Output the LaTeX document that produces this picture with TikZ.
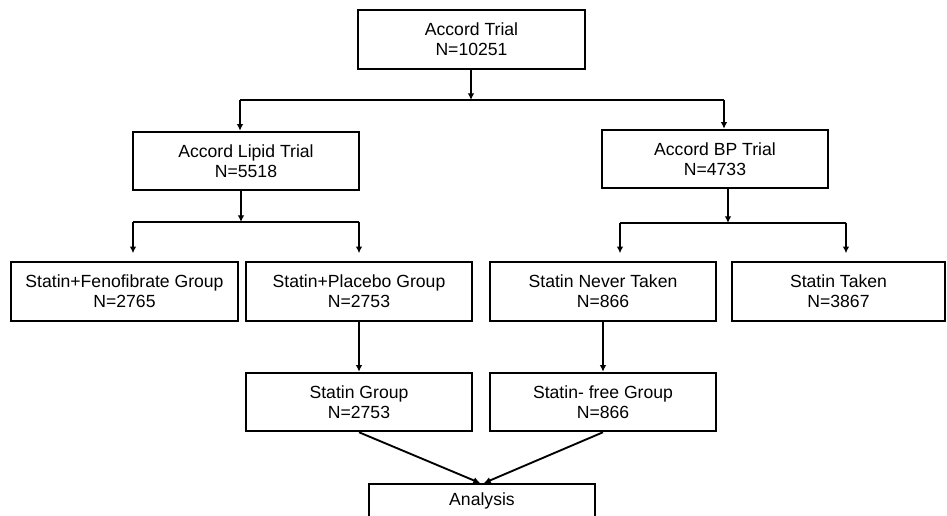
\documentclass[tikz,border=0pt]{standalone}
\usepackage{fontspec}
\setmainfont{Liberation Sans}
\usetikzlibrary{arrows.meta, positioning}

\begin{document}
\begin{tikzpicture}[
    x=0.75pt, y=-0.75pt,
    box/.style={draw, line width=1.4pt, minimum width=170pt, minimum height=44pt,
        inner sep=0pt, align=center, font=\fontsize{13.2}{15}\selectfont},
    link/.style={line width=1.4pt},
    arr/.style={link, -{Latex[length=5pt,width=5pt]}},
]
\useasboundingbox (0,0) rectangle (947,516);
\node[box] (trial) at (471.5,39.5) {Accord Trial\\N=10251};
\node[box] (lipid) at (246,161) {Accord Lipid Trial\\N=5518};
\node[box] (bp) at (715,159) {Accord BP Trial\\N=4733};
\node[box] (fenofib) at (124.5,291.5) {Statin+Fenofibrate Group\\N=2765};
\node[box] (placebo) at (359,291.5) {Statin+Placebo Group\\N=2753};
\node[box] (never) at (603,291.5) {Statin Never Taken\\N=866};
\node[box, minimum width=160pt] (taken) at (838.5,291.5) {Statin Taken\\N=3867};
\node[box] (statin) at (359,402) {Statin Group\\N=2753};
\node[box] (free) at (603,402) {Statin- free Group\\N=866};
\node[box, anchor=north, minimum height=0pt, text height=16.5pt, text depth=15pt]
    (analysis) at (482,483) {Analysis};

\coordinate (s0) at (471,100);
\coordinate (s1) at (240,100);
\coordinate (s2) at (724,100);
\draw[arr] (trial.south -| s0) -- (s0);
\draw[link] (s1) -- (s2);
\draw[arr] (s1) -- (s1 |- lipid.north);
\draw[arr] (s2) -- (s2 |- bp.north);

\coordinate (l0) at (241,222);
\coordinate (l1) at (133,222);
\coordinate (l2) at (359,222);
\draw[arr] (lipid.south -| l0) -- (l0);
\draw[link] (l1) -- (l2);
\draw[arr, shorten >=6pt] (l1) -- (l1 |- fenofib.north);
\draw[arr, shorten >=6pt] (l2) -- (l2 |- placebo.north);

\coordinate (b0) at (728,223);
\coordinate (b1) at (620,223);
\coordinate (b2) at (846,223);
\draw[arr] (bp.south -| b0) -- (b0);
\draw[link] (b1) -- (b2);
\draw[arr, shorten >=6pt] (b1) -- (b1 |- never.north);
\draw[arr, shorten >=6pt] (b2) -- (b2 |- taken.north);

\draw[arr] (placebo) -- (statin);
\draw[arr] (never) -- (free);
\draw[arr] (statin.south) -- ([xshift=-1.5pt]analysis.north);
\draw[arr] (free.south) -- ([xshift=1.5pt]analysis.north);
\end{tikzpicture}
\end{document}
